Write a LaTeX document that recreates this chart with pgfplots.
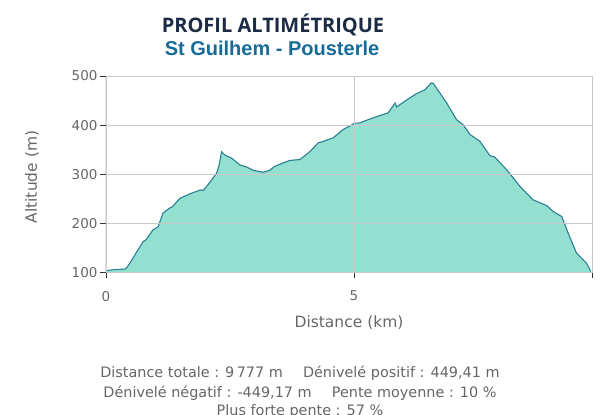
\documentclass[border=0pt]{standalone}
\usepackage{pgfplots}
\pgfplotsset{compat=1.18}
\usepackage{pgfplotstable}
\usepackage{fontspec}
\setmainfont{DejaVu Sans}
\newfontfamily\titlefont{Open Sans}
\newfontfamily\subfont{Liberation Sans}
\definecolor{fillc}{HTML}{93E0D0}
\definecolor{linec}{HTML}{2A7F93}
\definecolor{titlec}{HTML}{1C2B44}
\definecolor{subc}{HTML}{176B98}
\definecolor{txtc}{HTML}{666666}
\definecolor{gridc}{HTML}{C8C8C8}
\pgfplotstableread{
x y
0 104
0.2 106
0.38 107
0.42 110
0.5 122
0.62 142
0.75 163
0.8 166
0.95 187
1.05 193
1.15 221
1.28 231
1.33 233
1.49 251
1.69 260
1.9 268
1.96 267
2.06 279
2.23 302
2.28 318
2.33 346
2.4 339
2.53 333
2.7 319
2.83 315
2.97 308
3.17 304
3.3 308
3.4 316
3.57 323
3.7 328
3.91 330
4.11 346
4.28 364
4.35 366
4.58 374
4.78 391
5.02 404
5.1 404
5.39 415
5.69 425
5.83 445
5.86 437
6.06 451
6.26 464
6.43 472
6.56 486
6.6 485
6.87 445
7.07 411
7.2 401
7.34 381
7.54 367
7.74 338
7.84 335
8.08 309
8.35 275
8.61 248
8.89 236
9.02 224
9.19 214
9.32 180
9.49 139
9.69 119
9.777 102
}\profile
\begin{document}
\begin{tikzpicture}[x=1pt,y=1pt]
\useasboundingbox (0,0) rectangle (600,415);
\begin{axis}[
  at={(106pt,142.5pt)}, anchor=south west,
  scale only axis, width=486pt, height=196.5pt,
  xmin=0, xmax=9.8, ymin=100, ymax=500,
  xtick={0,5,9.8}, xticklabels={0,5,},
  ytick={100,200,300,400,500},
  xmajorgrids, ymajorgrids,
  grid style={gridc, line width=0.8pt},
  axis line style={gridc, line width=0.8pt},
  tick align=outside, xtick pos=bottom, ytick pos=left,
  major tick length=6pt,
  tick style={black!80, line width=0.9pt},
  /pgf/number format/assume math mode=true,
  tick label style={font=\fontsize{13.5}{15}\selectfont, text=txtc},
  xticklabel style={yshift=-9pt},
  yticklabel style={xshift=1pt},
  axis on top,
  clip=true,
]
\addplot[fill=fillc, draw=none] table[x=x,y=y] {\profile} \closedcycle;
\addplot[linec, line width=1.1pt] table[x=x,y=y] {\profile};
\draw[black!80, line width=1pt] (rel axis cs:0,1) -- (rel axis cs:0,0) -- (rel axis cs:1,0);
\end{axis}
\node[text=titlec, font=\titlefont\bfseries\fontsize{20}{22}\selectfont] at (273,390) {PROFIL ALTIMÉTRIQUE};
\node[text=subc, font=\subfont\bfseries\fontsize{20}{22}\selectfont] at (272,367) {St Guilhem - Pousterle};
\node[text=txtc, rotate=90, font=\fontsize{15.5}{17}\selectfont] at (32,238) {Altitude (m)};
\node[text=txtc, font=\fontsize{15.5}{17}\selectfont] at (349,92) {Distance (km)};
\node[text=txtc, font=\fontsize{14.4}{16}\selectfont] at (300,42) {Distance totale : 9\,777 m\hspace{1.4em}Dénivelé positif : 449,41 m};
\node[text=txtc, font=\fontsize{14.4}{16}\selectfont] at (300,22) {Dénivelé négatif : -449,17 m\hspace{1.4em}Pente moyenne : 10 \%};
\node[text=txtc, font=\fontsize{14.4}{16}\selectfont] at (300,3) {Plus forte pente : 57 \%};
\end{tikzpicture}
\end{document}
